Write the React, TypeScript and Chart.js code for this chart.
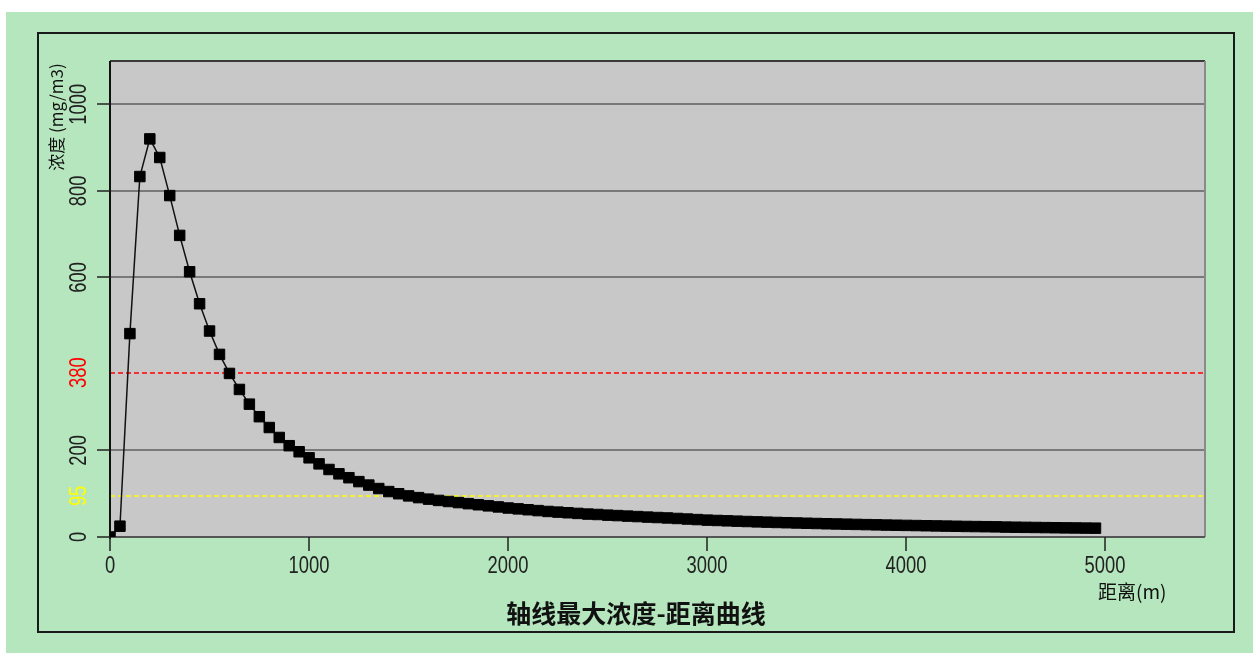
import React, { useEffect, useRef } from "react";
import { Chart, registerables } from "chart.js";

Chart.register(...registerables);

const distances = [
  0, 50, 100, 150, 200, 250, 300, 350, 400, 450,
  500, 550, 600, 650, 700, 750, 800, 850, 900, 950,
  1000, 1050, 1100, 1150, 1200, 1250, 1300, 1350, 1400, 1450,
  1500, 1550, 1600, 1650, 1700, 1750, 1800, 1850, 1900, 1950,
  2000, 2050, 2100, 2150, 2200, 2250, 2300, 2350, 2400, 2450,
  2500, 2550, 2600, 2650, 2700, 2750, 2800, 2850, 2900, 2950,
  3000, 3050, 3100, 3150, 3200, 3250, 3300, 3350, 3400, 3450,
  3500, 3550, 3600, 3650, 3700, 3750, 3800, 3850, 3900, 3950,
  4000, 4050, 4100, 4150, 4200, 4250, 4300, 4350, 4400, 4450,
  4500, 4550, 4600, 4650, 4700, 4750, 4800, 4850, 4900, 4950,
];

const concentrations = [
  0, 25, 470, 833, 920, 877, 789, 697, 613, 539,
  476, 422, 378, 341, 307, 278, 253, 230, 211, 197,
  183, 169, 156, 146, 137, 128, 120, 112, 105, 100,
  95, 91, 87.5, 84.5, 82, 79.5, 77, 74.5, 72, 69.5,
  67, 65, 63, 61, 59, 57.5, 56, 54.5, 53, 52,
  50.5, 49.5, 48.3, 47.2, 46, 45, 44, 42.8, 41.5, 40.3,
  39, 38.2, 37.4, 36.6, 35.8, 35, 34.3, 33.6, 33, 32.4,
  31.8, 31.2, 30.6, 30.1, 29.6, 29.1, 28.6, 28.1, 27.6, 27.2,
  26.8, 26.4, 26, 25.6, 25.2, 24.8, 24.4, 24.1, 23.8, 23.5,
  22.9, 22.6, 22.3, 22, 21.7, 21.4, 21.1, 20.9, 20.6, 20.4,
];

const xTicks = [0, 1000, 2000, 3000, 4000, 5000];
const yGridTicks = [200, 600, 800, 1000];
const yLabelTicks = [0, 95, 200, 380, 600, 800, 1000];
const thresholdRed = 380;
const thresholdYellow = 95;

const chartTitle = "轴线最大浓度-距离曲线";
const xTitle = "距离(m)";
const yTitle = "浓度 (mg/m3)";

const TICK_FONT = '23px "Liberation Sans", Arial, sans-serif';
const TICK_SQUEEZE = 0.8;
const CJK = '"Noto Sans CJK SC", "Noto Sans", sans-serif';

function narrowText(ctx: any, text: string, x: number, y: number, rot: number) {
  ctx.save();
  ctx.translate(x, y);
  if (rot) ctx.rotate(rot);
  ctx.scale(TICK_SQUEEZE, 1);
  ctx.fillText(text, 0, 0);
  ctx.restore();
}

const framePlugin = {
  id: "frame",
  beforeDraw(chart: any) {
    const { ctx, chartArea } = chart;
    const { left, top, right, bottom } = chartArea;
    ctx.save();
    ctx.fillStyle = "#ffffff";
    ctx.fillRect(0, 0, chart.width, chart.height);
    ctx.fillStyle = "#B5E6BD";
    ctx.fillRect(6, 12, chart.width - 6, chart.height - 12);
    ctx.strokeStyle = "#1a1a1a";
    ctx.lineWidth = 2;
    ctx.strokeRect(38, 33, 1196, 599);
    ctx.fillStyle = "#C8C8C8";
    ctx.fillRect(left, top, right - left, bottom - top);
    ctx.restore();
  },
  beforeDatasetsDraw(chart: any) {
    const { ctx, chartArea, scales } = chart;
    const { left, top, right, bottom } = chartArea;
    const y = scales.y;
    ctx.save();
    ctx.strokeStyle = "#5f5f5f";
    ctx.lineWidth = 1.5;
    yGridTicks.forEach((v) => {
      const py = Math.round(y.getPixelForValue(v));
      ctx.beginPath();
      ctx.moveTo(left, py);
      ctx.lineTo(right, py);
      ctx.stroke();
    });
    ctx.setLineDash([5, 3]);
    ctx.lineWidth = 1.5;
    const pr = Math.round(y.getPixelForValue(thresholdRed));
    ctx.strokeStyle = "rgb(255,0,0)";
    ctx.beginPath();
    ctx.moveTo(left, pr);
    ctx.lineTo(right, pr);
    ctx.stroke();
    const pyl = Math.round(y.getPixelForValue(thresholdYellow));
    ctx.strokeStyle = "rgb(255,255,0)";
    ctx.beginPath();
    ctx.moveTo(left, pyl);
    ctx.lineTo(right, pyl);
    ctx.stroke();
    ctx.setLineDash([]);
    ctx.lineWidth = 2;
    ctx.strokeStyle = "#3a3a3a";
    ctx.beginPath();
    ctx.moveTo(left, top);
    ctx.lineTo(right, top);
    ctx.stroke();
    ctx.strokeStyle = "#8a8a8a";
    ctx.beginPath();
    ctx.moveTo(right, top);
    ctx.lineTo(right, bottom);
    ctx.stroke();
    ctx.strokeStyle = "#555555";
    ctx.beginPath();
    ctx.moveTo(left, bottom);
    ctx.lineTo(right, bottom);
    ctx.stroke();
    ctx.strokeStyle = "#111111";
    ctx.beginPath();
    ctx.moveTo(left, top);
    ctx.lineTo(left, bottom + 2);
    ctx.stroke();
    ctx.restore();
  },
  afterDraw(chart: any) {
    const { ctx, chartArea, scales } = chart;
    const { left, bottom } = chartArea;
    const x = scales.x;
    const y = scales.y;
    ctx.save();
    ctx.strokeStyle = "#222222";
    ctx.lineWidth = 1.5;
    ctx.font = TICK_FONT;
    ctx.fillStyle = "#222222";
    ctx.textAlign = "center";
    ctx.textBaseline = "middle";
    xTicks.forEach((v) => {
      const px = Math.round(x.getPixelForValue(v));
      ctx.beginPath();
      ctx.moveTo(px, bottom);
      ctx.lineTo(px, bottom + 14);
      ctx.stroke();
      narrowText(ctx, String(v), px, bottom + 30, 0);
    });
    [0, ...yGridTicks].forEach((v) => {
      const py = Math.round(y.getPixelForValue(v));
      ctx.beginPath();
      ctx.moveTo(left - 13, py);
      ctx.lineTo(left, py);
      ctx.stroke();
    });
    yLabelTicks.forEach((v) => {
      const py = y.getPixelForValue(v);
      ctx.fillStyle = v === thresholdRed ? "#FF0000" : v === thresholdYellow ? "#FFFF00" : "#222222";
      narrowText(ctx, String(v), 80, py, -Math.PI / 2);
    });
    ctx.save();
    ctx.translate(57, 117);
    ctx.rotate(-Math.PI / 2);
    ctx.font = "17px " + CJK;
    ctx.fillStyle = "#111111";
    ctx.fillText(yTitle, 0, 0);
    ctx.restore();
    ctx.font = "19px " + CJK;
    ctx.fillStyle = "#111111";
    ctx.textAlign = "left";
    ctx.fillText(xTitle, 1098, 592);
    ctx.font = "bold 25px " + CJK;
    ctx.textAlign = "center";
    ctx.fillText(chartTitle, 636, 613);
    ctx.restore();
  },
};

export default function App() {
  const ref = useRef<HTMLCanvasElement | null>(null);
  useEffect(() => {
    if (!ref.current) return;
    const chart = new Chart(ref.current, {
      type: "line",
      data: {
        datasets: [
          {
            data: distances.map((d, i) => ({ x: d, y: concentrations[i] })),
            borderColor: "#111111",
            borderWidth: 1.5,
            pointStyle: "rect",
            pointRadius: 7.4,
            pointBorderWidth: 1,
            pointBackgroundColor: "#000000",
            pointBorderColor: "#000000",
            tension: 0,
            fill: false,
          },
        ],
      },
      options: {
        responsive: false,
        animation: false,
        events: [],
        layout: { padding: { left: 110, top: 61, right: 48, bottom: 116 } },
        plugins: { legend: { display: false }, tooltip: { enabled: false }, title: { display: false } },
        scales: {
          x: { type: "linear", min: 0, max: 5500, display: false },
          y: { type: "linear", min: 0, max: 1100, display: false },
        },
      },
      plugins: [framePlugin],
    });
    return () => chart.destroy();
  }, []);
  return (
    <div style={{ position: "absolute", left: 0, top: 0, width: 1253, height: 653, background: "#fff" }}>
      <canvas ref={ref} width={1253} height={653} style={{ display: "block" }} />
    </div>
  );
}
